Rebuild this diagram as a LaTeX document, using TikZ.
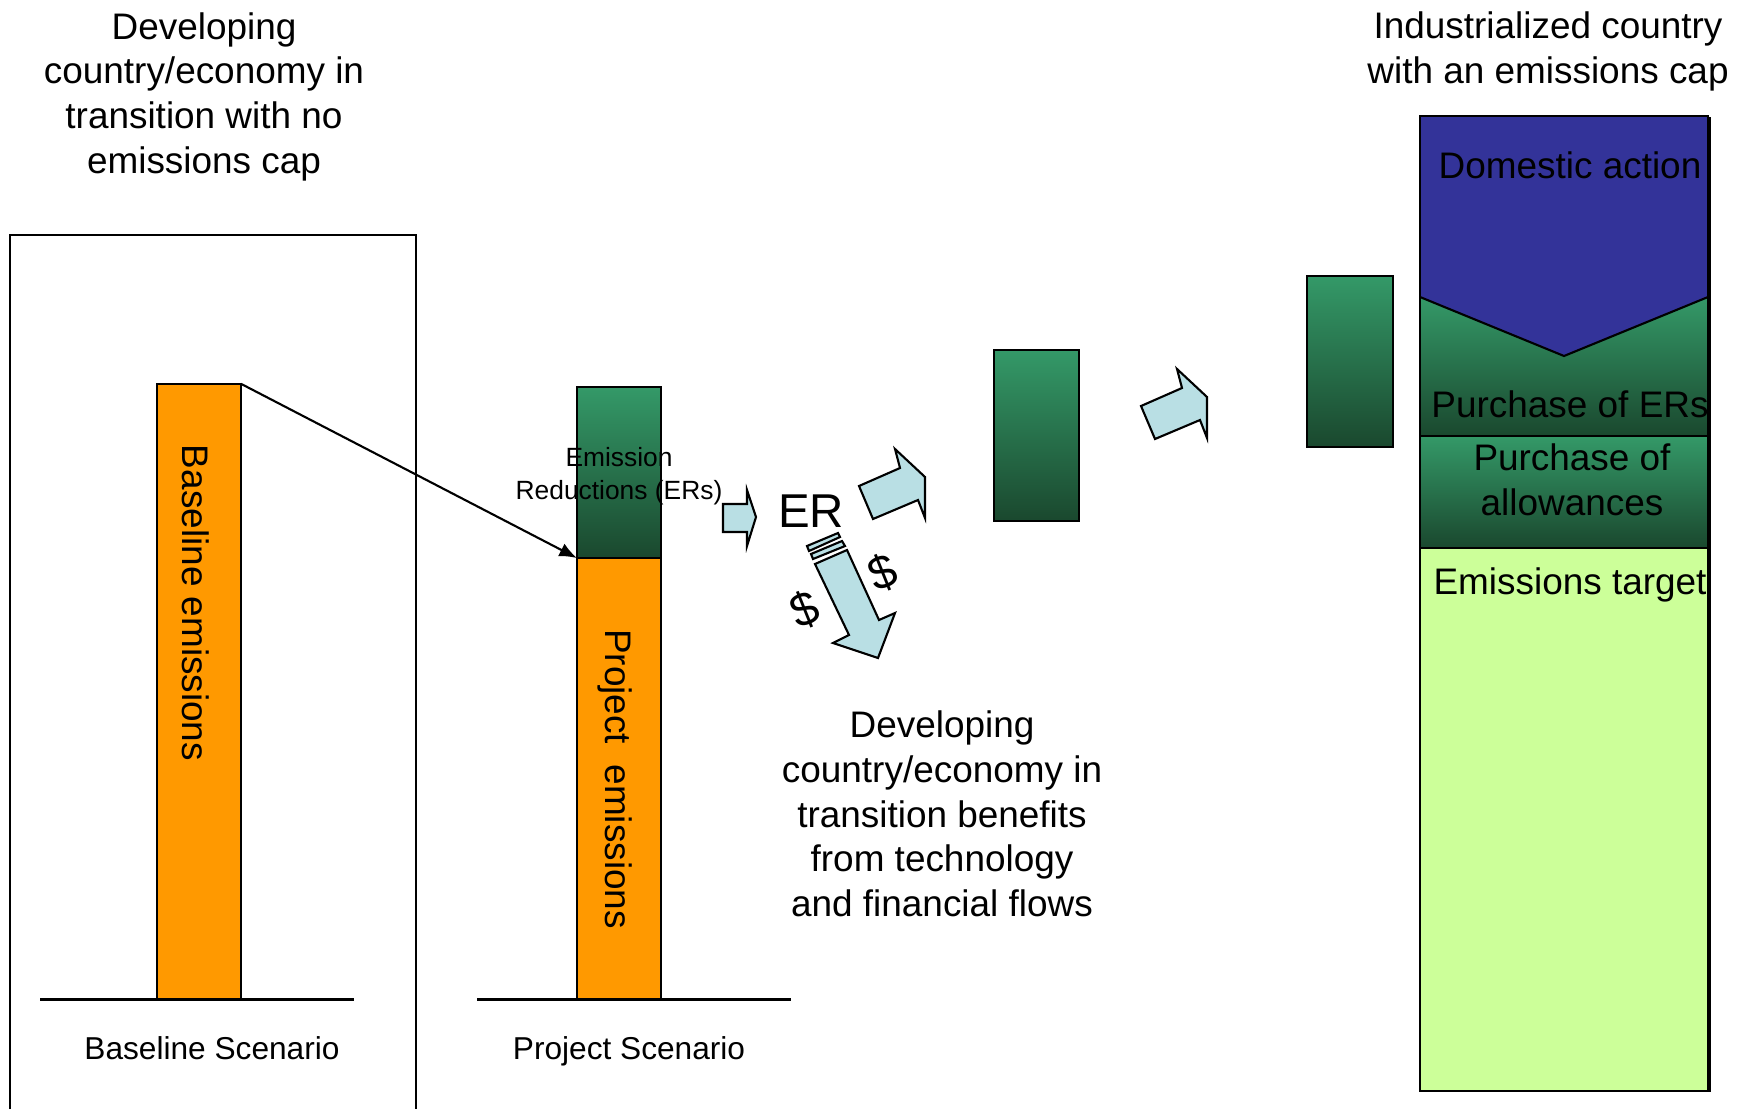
\documentclass[tikz,border=0pt]{standalone}
\usepackage{fontspec}
\setmainfont{Liberation Sans}
\usetikzlibrary{arrows.meta}
\definecolor{baseOrange}{RGB}{255,153,0}
\definecolor{erTop}{RGB}{52,153,104}
\definecolor{erBottom}{RGB}{26,72,46}
\definecolor{flowBlue}{RGB}{185,223,228}
\definecolor{domBlue}{RGB}{51,51,153}
\definecolor{targetGreen}{RGB}{204,255,153}
\begin{document}
\begin{tikzpicture}
        [x=0.01cm, y=-0.01cm, line width=0.6pt,
        barBox/.style={draw, inner sep=0pt, outer sep=0pt, minimum width=0.84cm},
        barOrange/.style={barBox, fill=baseOrange},
        barGreen/.style={barBox, top color=erTop, bottom color=erBottom},
        flowArrow/.style={draw, fill=flowBlue, line join=miter},
        txt/.style={font=\fontsize{10.5}{12.7}\selectfont, align=center, inner sep=0pt},
        txtSmall/.style={font=\fontsize{9}{11}\selectfont, inner sep=0pt},
        txtBig/.style={font=\fontsize{13.5}{16}\selectfont, inner sep=0pt}]
        \useasboundingbox (0,0) rectangle (1749,1109);

        % baseline side
        \node[txt] (devHead) at (204,96.5) {Developing\\country/economy in\\transition with no\\emissions cap};
        \draw (10,1109) -- (10,235) -- (416,235) -- (416,1109);
        \node[barOrange, minimum height=6.155cm] (baseBar) at (199,691.75) {};
        \node[txt, rotate=-90] (baseText) at (196,603) {Baseline emissions};
        \draw (40,999.5) -- (354,999.5);
        \node[txtSmall] (baseScen) at (212,1048) {Baseline Scenario};

        % project side
        \node[barGreen, minimum height=1.71cm] (projER) at (619,472.5) {};
        \node[barOrange, minimum height=4.415cm] (projBar) at (619,778.75) {};
        \node[txt, rotate=-90] (projText) at (615,779) {Project\ \ emissions};
        \node[font=\fontsize{7.5}{9.4}\selectfont, align=center, inner sep=0pt] (erText) at (619,476) {Emission\\Reductions (ERs)};
        \draw (477,999.5) -- (791,999.5);
        \node[txtSmall] (projScen) at (629,1051) {Project Scenario};
        \draw[-{Latex[length=5pt,width=4pt]}] (baseBar.north east) -- (projER.south west);

        % flows
        \draw[flowArrow] (723,504) -- (747,504) -- (747,490) -- (756,517) -- (747,546) -- (747,532) -- (723,532) -- cycle;
        \node[txtBig] (erMark) at (811,511) {ER};
        \foreach \dx/\dy in {0/0, 282/-80}
            \draw[flowArrow, shift={(\dx,\dy)}] (859,486) -- (900,468) -- (895,449) -- (925,477) -- (925,518) -- (918,500) -- (873,519) -- cycle;
        \draw[flowArrow] (807,546) -- (838,533) -- (840,537) -- (809,551) -- cycle;
        \draw[flowArrow] (811,554) -- (842,541) -- (845,546) -- (813,559) -- cycle;
        \draw[flowArrow] (815,564) -- (847,550) -- (879,620) -- (895,613) -- (878,658) -- (833,643) -- (849,635) -- cycle;
        \node[txtBig, rotate=22] (dollarL) at (805,610) {\$};
        \node[txtBig, rotate=22] (dollarR) at (883,573) {\$};
        \node[txt] (benefitText) at (942,814) {Developing\\country/economy in\\transition benefits\\from technology\\and financial flows};
        \node[barGreen, minimum width=0.85cm, minimum height=1.71cm] (erBlockA) at (1036.5,435.5) {};
        \node[barGreen, minimum width=0.86cm, minimum height=1.71cm] (erBlockB) at (1350,361.5) {};

        % industrialized side
        \node[txt] (indHead) at (1548,51.5) {Industrialized country\\with an emissions cap};
        \fill[domBlue] (1420,116) -- (1708,116) -- (1708,297) -- (1564,356) -- (1420,297) -- cycle;
        \shade[top color=erTop, bottom color=erBottom] (1420,297) -- (1564,356) -- (1708,297) -- (1708,436) -- (1420,436) -- cycle;
        \shade[top color=erTop, bottom color=erBottom] (1420,436) rectangle (1708,548);
        \fill[targetGreen] (1420,548) rectangle (1708,1091);
        \draw (1420,297) -- (1564,356) -- (1708,297);
        \draw (1420,436) -- (1708,436);
        \draw (1420,548) -- (1708,548);
        \draw (1420,116) rectangle (1708,1091);
        \draw[line width=1pt] (1709,117) -- (1709,1092);
        \begin{scope}
            \clip (1420,116) rectangle (1708,1091);
            \node[txt] (domText) at (1570,165) {Domestic action};
            \node[txt] (ersText) at (1570,404) {Purchase of ERs};
            \node[txt] (allowText) at (1572,480) {Purchase of\\allowances};
            \node[txt] (targetText) at (1570,585) {Emissions target};
        \end{scope}
    \end{tikzpicture}
\end{document}
